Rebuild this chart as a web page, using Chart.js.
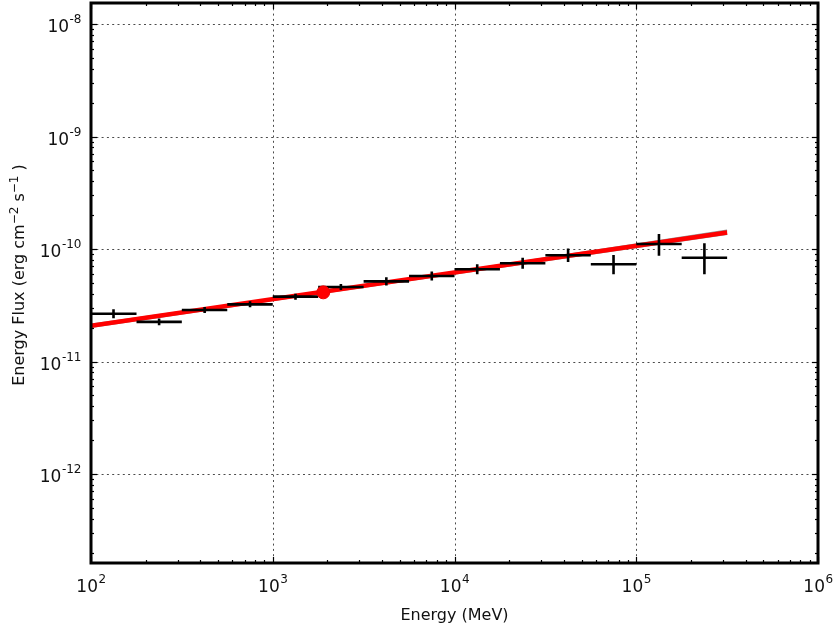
<!DOCTYPE html>
<html>
<head>
<meta charset="utf-8">
<script src="https://cdn.jsdelivr.net/npm/chart.js@4.4.1/dist/chart.umd.min.js"></script>
<style>
  html, body { margin: 0; padding: 0; background: #fff; }
  canvas { display: block; }
</style>
</head>
<body>
<canvas id="sedChart" width="835" height="632"></canvas>
<script>
// Energy bins (MeV)
const binLow = [100, 178, 316, 562, 1000, 1778, 3162, 5623, 10000, 17783, 31623, 56234, 100000, 177828];
const binHigh = [178, 316, 562, 1000, 1778, 3162, 5623, 10000, 17783, 31623, 56234, 100000, 177828, 316228];
const binCenter = [133, 237, 422, 750, 1334, 2371, 4217, 7499, 13335, 23714, 42170, 74989, 133352, 237137];

// Energy flux (erg cm^-2 s^-1) with error range
const fluxValues = [2.66e-11, 2.25e-11, 2.87e-11, 3.22e-11, 3.77e-11, 4.60e-11, 5.16e-11, 5.75e-11, 6.60e-11, 7.46e-11, 8.79e-11, 7.31e-11, 1.107e-10, 8.37e-11];
const fluxLow = [2.43e-11, 2.10e-11, 2.70e-11, 3.03e-11, 3.54e-11, 4.32e-11, 4.75e-11, 5.25e-11, 5.95e-11, 6.67e-11, 7.66e-11, 5.96e-11, 8.72e-11, 5.96e-11];
const fluxHigh = [2.92e-11, 2.41e-11, 3.05e-11, 3.43e-11, 4.01e-11, 4.89e-11, 5.60e-11, 6.30e-11, 7.32e-11, 8.35e-11, 1.01e-10, 8.85e-11, 1.36e-10, 1.125e-10];

// Power-law model and its butterfly
const modelEnergy = [100, 316228];
const modelFlux = [2.08e-11, 1.40e-10];
const bandEnergy = [100, 1897, 316228];
const bandUpper = [2.13e-11, 4.14e-11, 1.46e-10];
const bandLower = [2.03e-11, 4.08e-11, 1.36e-10];
const pivotEnergy = [1897];
const pivotFlux = [4.12e-11];

// Axis ticks
const xTickValues = [1e2, 1e3, 1e4, 1e5, 1e6];
const xTickExps = ['2', '3', '4', '5', '6'];
const yTickValues = [1e-12, 1e-11, 1e-10, 1e-9, 1e-8];
const yTickExps = ['-12', '-11', '-10', '-9', '-8'];

const FONT = '"DejaVu Sans", sans-serif';

function toPoints(xs, ys) {
    return xs.map((x, i) => ({ x: x, y: ys[i] }));
}

// minor ticks 2..9 x 10^k inside [min, max]
function minorTicks(min, max) {
    const out = [];
    for (let d = Math.floor(Math.log10(min)); d <= Math.ceil(Math.log10(max)); d++) {
        for (let m = 2; m <= 9; m++) {
            const v = m * Math.pow(10, d);
            if (v > min && v < max) out.push(v);
        }
    }
    return out;
}

// draws "10" with a raised exponent; align = 'right' or 'center'
function drawPower(ctx, exp, x, baseY, align) {
    ctx.font = '17px ' + FONT;
    const baseW = ctx.measureText('10').width;
    ctx.font = '12px ' + FONT;
    const expW = ctx.measureText(exp).width;
    let start = align === 'right' ? x - baseW - expW : x - (baseW + expW) / 2;
    ctx.textAlign = 'left';
    ctx.textBaseline = 'alphabetic';
    ctx.font = '17px ' + FONT;
    ctx.fillText('10', start, baseY);
    ctx.font = '12px ' + FONT;
    ctx.fillText(exp, start + baseW + 0.5, baseY - 9);
}

const sedAxes = {
    id: 'sedAxes',
    beforeDatasetsDraw(chart) {
        const { ctx, chartArea: a, scales } = chart;
        ctx.save();
        ctx.strokeStyle = 'rgba(0,0,0,0.7)';
        ctx.lineWidth = 1;
        ctx.setLineDash([2, 3.3]);
        xTickValues.forEach(v => {
            const px = Math.round(scales.x.getPixelForValue(v)) + 0.5;
            if (px <= a.left + 2 || px >= a.right - 2) return;
            ctx.beginPath(); ctx.moveTo(px, a.top); ctx.lineTo(px, a.bottom); ctx.stroke();
        });
        yTickValues.forEach(v => {
            const py = Math.round(scales.y.getPixelForValue(v)) + 0.5;
            if (py <= a.top + 2 || py >= a.bottom - 2) return;
            ctx.beginPath(); ctx.moveTo(a.left, py); ctx.lineTo(a.right, py); ctx.stroke();
        });
        ctx.restore();
    },
    afterDatasetDraw(chart, args) {
        // error bars drawn right after the (invisible) flux dataset
        if (args.index !== 1) return;
        const { ctx, scales } = chart;
        ctx.save();
        ctx.strokeStyle = '#000';
        ctx.lineWidth = 2.6;
        ctx.lineCap = 'butt';
        for (let i = 0; i < fluxValues.length; i++) {
            const x1 = scales.x.getPixelForValue(binLow[i]);
            const x2 = scales.x.getPixelForValue(binHigh[i]);
            const xc = scales.x.getPixelForValue(binCenter[i]);
            const y = scales.y.getPixelForValue(fluxValues[i]);
            const yLo = scales.y.getPixelForValue(fluxLow[i]);
            const yHi = scales.y.getPixelForValue(fluxHigh[i]);
            ctx.beginPath();
            ctx.moveTo(x1, y); ctx.lineTo(x2, y);
            ctx.moveTo(xc, yLo); ctx.lineTo(xc, yHi);
            ctx.stroke();
        }
        ctx.restore();
    },
    afterDraw(chart) {
        const { ctx, chartArea: a, scales } = chart;
        ctx.save();
        ctx.fillStyle = '#000';
        ctx.strokeStyle = '#000';

        // inward tick marks on all four sides
        ctx.lineWidth = 1.2;
        const xMinor = minorTicks(scales.x.min, scales.x.max);
        const yMinor = minorTicks(scales.y.min, scales.y.max);
        const tick = (x1, y1, x2, y2) => { ctx.beginPath(); ctx.moveTo(x1, y1); ctx.lineTo(x2, y2); ctx.stroke(); };
        xTickValues.concat(xMinor).forEach(v => {
            const len = xTickValues.includes(v) ? 6 : 3;
            const px = Math.round(scales.x.getPixelForValue(v)) + 0.5;
            tick(px, a.bottom, px, a.bottom - len);
            tick(px, a.top, px, a.top + len);
        });
        yTickValues.concat(yMinor).forEach(v => {
            const len = yTickValues.includes(v) ? 6 : 3;
            const py = Math.round(scales.y.getPixelForValue(v)) + 0.5;
            tick(a.left, py, a.left + len, py);
            tick(a.right, py, a.right - len, py);
        });

        // frame
        ctx.lineWidth = 3;
        ctx.strokeRect(a.left, a.top, a.right - a.left, a.bottom - a.top);

        // tick labels
        ctx.fillStyle = '#111';
        xTickValues.forEach((v, i) => {
            drawPower(ctx, xTickExps[i], scales.x.getPixelForValue(v), 592, 'center');
        });
        yTickValues.forEach((v, i) => {
            drawPower(ctx, yTickExps[i], 81, scales.y.getPixelForValue(v) + 8, 'right');
        });

        // x title
        ctx.font = '16px ' + FONT;
        ctx.textAlign = 'center';
        ctx.textBaseline = 'middle';
        ctx.fillText('Energy (MeV)', (a.left + a.right) / 2, 616);

        // y title with superscripts
        const parts = [['Energy Flux (erg cm', 0], ['\u22122', 1], [' s', 0], ['\u22121', 1], [' )', 0]];
        const fontOf = sup => (sup ? '12px ' : '16px ') + FONT;
        let total = 0;
        parts.forEach(p => { ctx.font = fontOf(p[1]); total += ctx.measureText(p[0]).width; });
        ctx.translate(19, (a.top + a.bottom) / 2 - 8);
        ctx.rotate(-Math.PI / 2);
        ctx.textAlign = 'left';
        ctx.textBaseline = 'alphabetic';
        let cx = -total / 2;
        parts.forEach(p => {
            ctx.font = fontOf(p[1]);
            ctx.fillText(p[0], cx, p[1] ? -1 : 5);
            cx += ctx.measureText(p[0]).width;
        });
        ctx.restore();
    }
};

document.addEventListener('DOMContentLoaded', function() {
    const ctx = document.getElementById('sedChart').getContext('2d');
    new Chart(ctx, {
        type: 'scatter',
        data: {
            datasets: [
                {
                    // decorrelation energy point
                    data: toPoints(pivotEnergy, pivotFlux),
                    backgroundColor: '#ff0000',
                    borderColor: '#ee0000',
                    borderWidth: 1,
                    pointRadius: 6.5
                },
                {
                    // flux points (error bars drawn by plugin)
                    data: toPoints(binCenter, fluxValues),
                    pointRadius: 0
                },
                {
                    data: toPoints(modelEnergy, modelFlux),
                    type: 'line',
                    borderColor: '#ff0000',
                    borderWidth: 4.5,
                    pointRadius: 0,
                    fill: false
                },
                {
                    data: toPoints(bandEnergy, bandUpper),
                    type: 'line',
                    borderColor: 'rgba(120,120,120,0.8)',
                    backgroundColor: 'rgba(120,120,120,0.8)',
                    borderWidth: 2,
                    pointRadius: 0,
                    fill: '+1'
                },
                {
                    data: toPoints(bandEnergy, bandLower),
                    type: 'line',
                    borderColor: 'rgba(120,120,120,0.8)',
                    borderWidth: 2,
                    pointRadius: 0,
                    fill: false
                }
            ]
        },
        options: {
            responsive: false,
            animation: false,
            events: [],
            layout: { autoPadding: false, padding: { left: 91, right: 17, top: 3, bottom: 69 } },
            plugins: {
                legend: { display: false },
                tooltip: { enabled: false }
            },
            scales: {
                x: { type: 'logarithmic', min: 100, max: 1e6, display: false },
                y: { type: 'logarithmic', min: 1.618e-13, max: 1.537e-8, display: false }
            }
        },
        plugins: [sedAxes]
    });
});
</script>
</body>
</html>
